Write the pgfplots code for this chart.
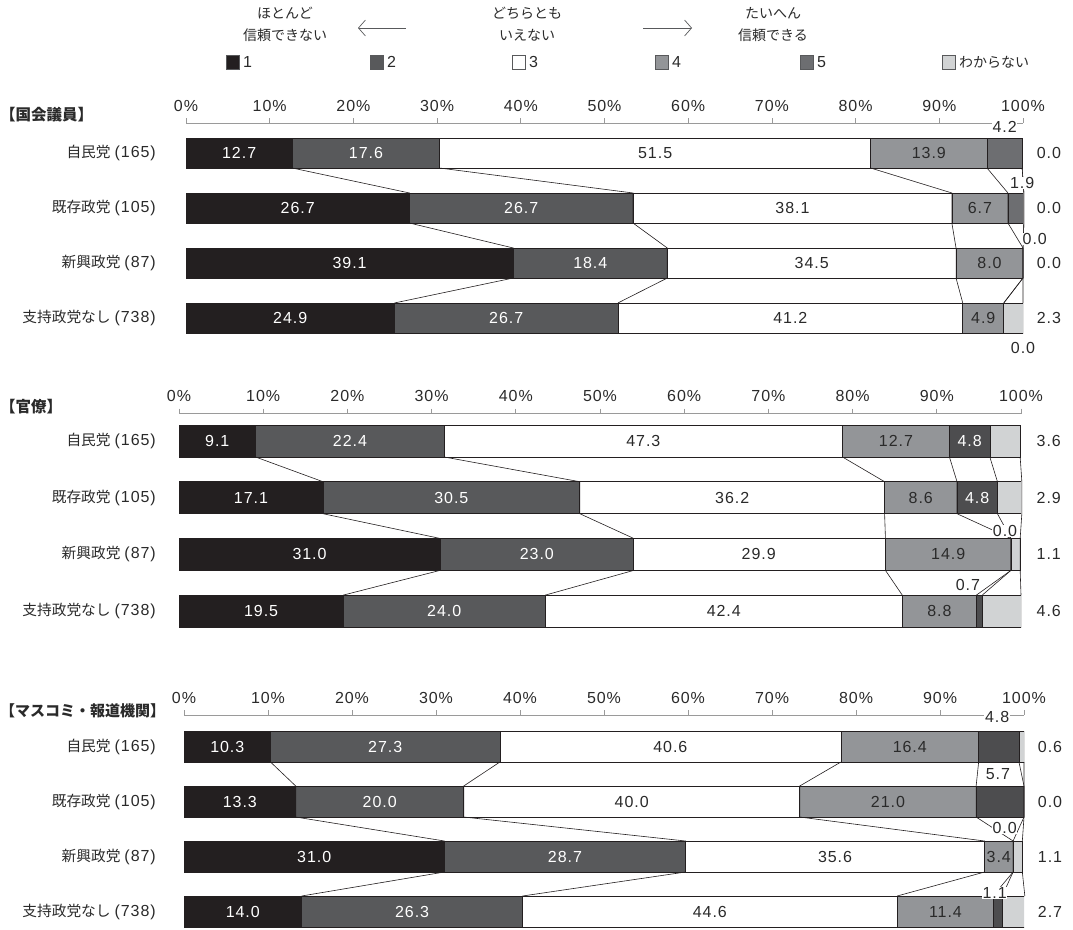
\documentclass[border=0pt]{standalone}
\usepackage{pgfplots}
\pgfplotsset{compat=1.18}
\usepackage{fontspec}
\setmainfont{Noto Sans CJK JP}
\newfontfamily\numfam{Liberation Sans}[LetterSpace=6]
\usetikzlibrary{arrows.meta}
\definecolor{cA}{HTML}{231F20}
\definecolor{cB}{HTML}{58595B}
\definecolor{cC}{HTML}{FFFFFF}
\definecolor{cD}{HTML}{939598}
\definecolor{cEa}{HTML}{6D6E71}
\definecolor{cEb}{HTML}{4D4D4F}
\definecolor{cF}{HTML}{D1D3D4}
\definecolor{edge}{HTML}{231F20}
\definecolor{axgray}{HTML}{9A9A9A}
\definecolor{txt}{HTML}{2A2A2A}
\newcommand\numfont{\numfam\fontsize{16}{19}\selectfont}
\newcommand\jpfont{\fontsize{14}{17}\selectfont}
\newcommand\rowfont{\fontsize{14.7}{17}\selectfont}
\newcommand\rl[2]{{\rowfont #1}\hspace{4pt}{\numfont (#2)}}
\newcommand\conn[4]{\addplot[conn] coordinates {(#1,\ya) (#2,\yb) (#2,\yc) (#3,\yd) (#3,\ye) (#4,\yf)};}
\pgfplotsset{
  barax/.style={
    anchor=origin, xmin=0, xmax=100, ymin=-3.5,
    xbar stacked,
    axis x line*=top, axis y line=none,
    x axis line style={-, draw=axgray, line width=0.7pt},
    xtick={0,10,20,30,40,50,60,70,80,90,100},
    xticklabels={0\%,10\%,20\%,30\%,40\%,50\%,60\%,70\%,80\%,90\%,100\%},
    tick align=outside, major tick length=5pt,
    xtick style={draw=axgray, line width=0.7pt},
    xticklabel style={font=\numfont, text=txt, yshift=3pt},
    ytick=\empty, minor tick num=0,
    every axis plot/.append style={draw=edge, line width=0.6pt},
  },
  labax/.style={
    anchor=origin, xmin=0, xmax=100, ymin=-3.5,
    hide axis, clip=false,
  },
  conn/.style={draw=edge, line width=0.6pt, mark=none, forget plot},
  wlab/.style={draw=none, mark=none, nodes near coords, point meta=explicit symbolic,
    every node near coord/.append style={anchor=center, text=white, font=\numfont}},
  dlab/.style={draw=none, mark=none, nodes near coords, point meta=explicit symbolic,
    every node near coord/.append style={anchor=center, text=txt, font=\numfont}},
  olab/.style={draw=none, mark=none, nodes near coords, point meta=explicit symbolic,
    every node near coord/.append style={anchor=center, text=txt, font=\numfont, fill=white, inner sep=0.6pt}},
}
\begin{document}
\begin{tikzpicture}
\useasboundingbox (0pt,0pt) rectangle (1073pt,-929pt);

% ---------- legend header ----------
\begin{scope}[every node/.style={text=txt, font=\jpfont, inner sep=0pt}]
\node at (285pt,-13pt) {ほとんど};
\node at (285pt,-35pt) {信頼できない};
\node at (527pt,-13pt) {どちらとも};
\node at (527pt,-35pt) {いえない};
\node at (773pt,-13pt) {たいへん};
\node at (773pt,-35pt) {信頼できる};
\end{scope}
\draw[line width=0.7pt, draw=cB, {Straight Barb[length=7pt,width=16pt]}-] (358pt,-28pt) -- (406pt,-28pt);
\draw[line width=0.7pt, draw=cB, -{Straight Barb[length=7pt,width=16pt]}] (643pt,-28pt) -- (692pt,-28pt);
\begin{scope}[every node/.style={text=txt, font=\numfont, inner sep=0pt, anchor=west}]
\draw[fill=cA, draw=cB, line width=0.6pt] (226pt,-55pt) rectangle (239pt,-69pt); \node at (243pt,-62pt) {1};
\draw[fill=cB, draw=cB, line width=0.6pt] (370pt,-55pt) rectangle (383pt,-69pt); \node at (387pt,-62pt) {2};
\draw[fill=cC, draw=cB, line width=0.6pt] (512pt,-55pt) rectangle (525pt,-69pt); \node at (529pt,-62pt) {3};
\draw[fill=cD, draw=cB, line width=0.6pt] (655pt,-55pt) rectangle (668pt,-69pt); \node at (672pt,-62pt) {4};
\draw[fill=cEa, draw=cB, line width=0.6pt] (800pt,-55pt) rectangle (813pt,-69pt); \node at (817pt,-62pt) {5};
\draw[fill=cF, draw=cB, line width=0.6pt] (942pt,-55pt) rectangle (955pt,-69pt); \node[font=\jpfont] at (959pt,-62pt) {わからない};
\end{scope}

% ---------- titles & row labels ----------
\begin{scope}[every node/.style={text=txt, inner sep=0pt}]
\node[anchor=west, font=\fontsize{15.5}{18}\selectfont\bfseries] at (0pt,-115pt) {【国会議員】};
\node[anchor=west, font=\fontsize{15.5}{18}\selectfont\bfseries] at (0pt,-407pt) {【官僚】};
\node[anchor=west, font=\fontsize{15}{18}\selectfont\bfseries] at (0pt,-711pt) {【マスコミ・報道機関】};
\node[anchor=east] at (156pt,-153pt) {\rl{自民党}{165}};
\node[anchor=east] at (156pt,-208pt) {\rl{既存政党}{105}};
\node[anchor=east] at (156pt,-263pt) {\rl{新興政党}{87}};
\node[anchor=east] at (156pt,-318pt) {\rl{支持政党なし}{738}};
\node[anchor=east] at (156pt,-441pt) {\rl{自民党}{165}};
\node[anchor=east] at (156pt,-497.7pt) {\rl{既存政党}{105}};
\node[anchor=east] at (156pt,-554.4pt) {\rl{新興政党}{87}};
\node[anchor=east] at (156pt,-611pt) {\rl{支持政党なし}{738}};
\node[anchor=east] at (156pt,-746.5pt) {\rl{自民党}{165}};
\node[anchor=east] at (156pt,-801.5pt) {\rl{既存政党}{105}};
\node[anchor=east] at (156pt,-856.5pt) {\rl{新興政党}{87}};
\node[anchor=east] at (156pt,-911.5pt) {\rl{支持政党なし}{738}};
\end{scope}

% ================= Panel 1 =================
\begin{axis}[barax, at={(186pt,-153pt)}, x=8.37pt, y=55pt, ymax=0.545, bar width=30pt]
\addplot[fill=cA] coordinates {(12.7,0) (26.7,-1) (39.1,-2) (24.9,-3)};
\addplot[fill=cB] coordinates {(17.6,0) (26.7,-1) (18.4,-2) (26.7,-3)};
\addplot[fill=cC] coordinates {(51.5,0) (38.1,-1) (34.5,-2) (41.2,-3)};
\addplot[fill=cD] coordinates {(13.9,0) (6.7,-1) (8.0,-2) (4.9,-3)};
\addplot[fill=cEa] coordinates {(4.2,0) (1.9,-1) (0.0,-2) (0.0,-3)};
\addplot[fill=cF] coordinates {(0.0,0) (0.0,-1) (0.0,-2) (2.3,-3)};
\end{axis}
\def\ya{-0.273}\def\yb{-0.727}\def\yc{-1.273}\def\yd{-1.727}\def\ye{-2.273}\def\yf{-2.727}
\begin{axis}[labax, at={(186pt,-153pt)}, x=8.37pt, y=55pt, ymax=0.545]
\conn{12.7}{26.7}{39.1}{24.9}
\conn{30.3}{53.4}{57.5}{51.6}
\conn{81.8}{91.5}{92.0}{92.8}
\conn{95.7}{98.2}{100.0}{97.7}
\conn{99.9}{100.1}{100.0}{97.7}
\conn{99.9}{100.1}{100.0}{100.0}
\addplot[wlab] coordinates {(6.35,0) [12.7] (21.5,0) [17.6] (13.35,-1) [26.7] (40.05,-1) [26.7] (19.55,-2) [39.1] (48.3,-2) [18.4] (12.45,-3) [24.9] (38.25,-3) [26.7]};
\addplot[dlab] coordinates {(56.05,0) [51.5] (88.75,0) [13.9] (72.45,-1) [38.1] (94.85,-1) [6.7] (74.75,-2) [34.5] (96.0,-2) [8.0] (72.2,-3) [41.2] (95.25,-3) [4.9]};
\addplot[olab] coordinates {(97.8,0.47) [4.2] (99.9,-0.545) [1.9] (101.4,-1.56) [0.0] (100.0,-3.545) [0.0]};
\addplot[dlab] coordinates {(103.1,0) [0.0] (103.1,-1) [0.0] (103.1,-2) [0.0] (103.1,-3) [2.3]};
\end{axis}

% ================= Panel 2 =================
\begin{axis}[barax, at={(179pt,-441pt)}, x=8.42pt, y=56.7pt, ymax=0.485, bar width=32pt]
\addplot[fill=cA] coordinates {(9.1,0) (17.1,-1) (31.0,-2) (19.5,-3)};
\addplot[fill=cB] coordinates {(22.4,0) (30.5,-1) (23.0,-2) (24.0,-3)};
\addplot[fill=cC] coordinates {(47.3,0) (36.2,-1) (29.9,-2) (42.4,-3)};
\addplot[fill=cD] coordinates {(12.7,0) (8.6,-1) (14.9,-2) (8.8,-3)};
\addplot[fill=cEb] coordinates {(4.8,0) (4.8,-1) (0.0,-2) (0.7,-3)};
\addplot[fill=cF] coordinates {(3.6,0) (2.9,-1) (1.1,-2) (4.6,-3)};
\end{axis}
\def\ya{-0.282}\def\yb{-0.718}\def\yc{-1.282}\def\yd{-1.718}\def\ye{-2.282}\def\yf{-2.718}
\begin{axis}[labax, at={(179pt,-441pt)}, x=8.42pt, y=56.7pt, ymax=0.485]
\conn{9.1}{17.1}{31.0}{19.5}
\conn{31.5}{47.6}{54.0}{43.5}
\conn{78.8}{83.8}{83.9}{85.9}
\conn{91.5}{92.4}{98.8}{94.7}
\conn{96.3}{97.2}{98.8}{95.4}
\conn{99.9}{100.1}{99.9}{100.0}
\addplot[wlab] coordinates {(4.55,0) [9.1] (20.3,0) [22.4] (93.9,0) [4.8] (8.55,-1) [17.1] (32.35,-1) [30.5] (94.8,-1) [4.8] (15.5,-2) [31.0] (42.5,-2) [23.0] (9.75,-3) [19.5] (31.5,-3) [24.0]};
\addplot[dlab] coordinates {(55.15,0) [47.3] (85.15,0) [12.7] (65.7,-1) [36.2] (88.1,-1) [8.6] (68.85,-2) [29.9] (91.35,-2) [14.9] (64.7,-3) [42.4] (90.3,-3) [8.8]};
\addplot[olab] coordinates {(98.1,-1.587) [0.0] (93.7,-2.54) [0.7]};
\addplot[dlab] coordinates {(103.3,0) [3.6] (103.3,-1) [2.9] (103.3,-2) [1.1] (103.3,-3) [4.6]};
\end{axis}

% ================= Panel 3 =================
\begin{axis}[barax, at={(184pt,-746.5pt)}, x=8.40pt, y=55pt, ymax=0.564, bar width=31pt]
\addplot[fill=cA] coordinates {(10.3,0) (13.3,-1) (31.0,-2) (14.0,-3)};
\addplot[fill=cB] coordinates {(27.3,0) (20.0,-1) (28.7,-2) (26.3,-3)};
\addplot[fill=cC] coordinates {(40.6,0) (40.0,-1) (35.6,-2) (44.6,-3)};
\addplot[fill=cD] coordinates {(16.4,0) (21.0,-1) (3.4,-2) (11.4,-3)};
\addplot[fill=cEb] coordinates {(4.8,0) (5.7,-1) (0.0,-2) (1.1,-3)};
\addplot[fill=cF] coordinates {(0.6,0) (0.0,-1) (1.1,-2) (2.7,-3)};
\end{axis}
\def\ya{-0.282}\def\yb{-0.718}\def\yc{-1.282}\def\yd{-1.718}\def\ye{-2.282}\def\yf{-2.718}
\begin{axis}[labax, at={(184pt,-746.5pt)}, x=8.40pt, y=55pt, ymax=0.564]
\conn{10.3}{13.3}{31.0}{14.0}
\conn{37.6}{33.3}{59.7}{40.3}
\conn{78.2}{73.3}{95.3}{84.9}
\conn{94.6}{94.3}{98.7}{96.3}
\conn{99.4}{100.0}{98.7}{97.4}
\conn{100.0}{100.0}{99.8}{100.1}
\addplot[wlab] coordinates {(5.15,0) [10.3] (23.95,0) [27.3] (6.65,-1) [13.3] (23.3,-1) [20.0] (15.5,-2) [31.0] (45.35,-2) [28.7] (7.0,-3) [14.0] (27.15,-3) [26.3]};
\addplot[dlab] coordinates {(57.9,0) [40.6] (86.4,0) [16.4] (53.3,-1) [40.0] (83.8,-1) [21.0] (77.5,-2) [35.6] (97.0,-2) [3.4] (62.6,-3) [44.6] (90.65,-3) [11.4]};
\addplot[olab] coordinates {(96.8,0.536) [4.8] (96.9,-0.5) [5.7] (97.7,-1.48) [0.0] (96.5,-2.66) [1.1]};
\addplot[dlab] coordinates {(103.1,0) [0.6] (103.1,-1) [0.0] (103.1,-2) [1.1] (103.1,-3) [2.7]};
\end{axis}
\end{tikzpicture}
\end{document}
